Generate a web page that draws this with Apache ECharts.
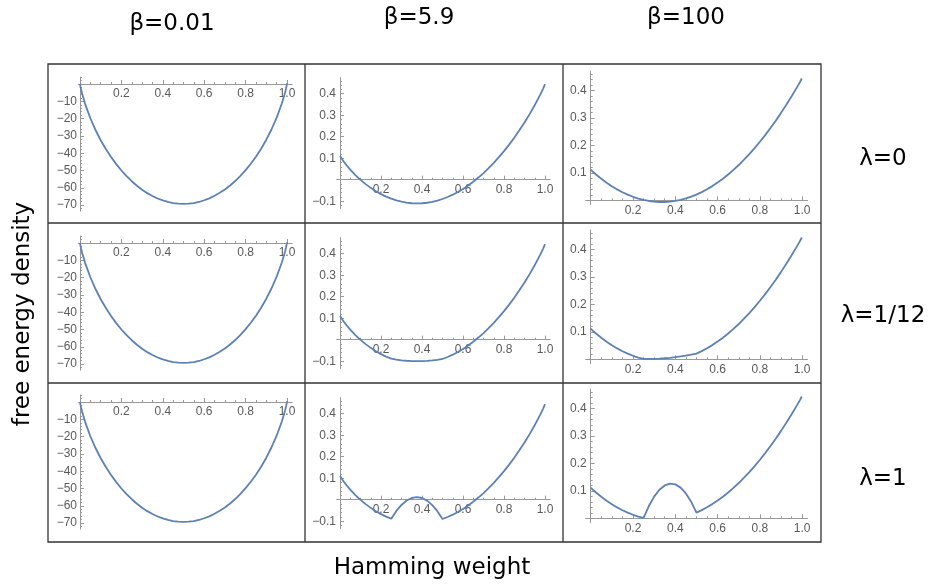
<!DOCTYPE html>
<html>
<head>
<meta charset="utf-8">
<script src="https://cdn.jsdelivr.net/npm/echarts@6/dist/echarts.min.js"></script>
<style>
html, body { margin: 0; background: #fff; }
#chart { width: 936px; height: 587px; }
</style>
</head>
<body>
<div id="chart"></div>
<script>
// Hamming weight samples (shared by every panel)
var xs = [0, 0.002, 0.005, 0.01, 0.025, 0.05, 0.075, 0.1, 0.125, 0.15, 0.175, 0.2, 0.225, 0.25,
    0.275, 0.3, 0.325, 0.35, 0.375, 0.4, 0.425, 0.45, 0.475, 0.5, 0.525, 0.55, 0.575, 0.6,
    0.625, 0.65, 0.675, 0.7, 0.725, 0.75, 0.775, 0.8, 0.825, 0.85, 0.875, 0.9, 0.925, 0.95,
    0.975, 0.99, 0.995, 0.998, 1];

// beta = 0.01 (same look for every lambda)
var lowBeta = [0.1, -1.3, -3.0, -5.5, -11.6, -19.8, -26.6, -32.5, -37.6, -42.2, -46.3, -50.0, -53.3, -56.2,
    -58.8, -61.1, -63.1, -64.7, -66.2, -67.3, -68.2, -68.8, -69.2, -69.3, -69.2, -68.8, -68.2, -67.2,
    -66.1, -64.6, -62.9, -61.0, -58.7, -56.1, -53.1, -49.8, -46.1, -42.0, -37.4, -32.2, -26.3, -19.5,
    -11.3, -5.2, -2.7, -1.0, 0.4];

// beta = 5.9
var midLam0 = [0.1111, 0.1074, 0.1025, 0.0951, 0.0753, 0.0466, 0.0216, -0.0007, -0.0205, -0.0380, -0.0535, -0.0670, -0.0786, -0.0884,
    -0.0963, -0.1024, -0.1068, -0.1095, -0.1104, -0.1096, -0.1072, -0.1030, -0.0972, -0.0897, -0.0805, -0.0697, -0.0572, -0.0430,
    -0.0271, -0.0095, 0.0099, 0.0309, 0.0537, 0.0783, 0.1047, 0.1330, 0.1631, 0.1953, 0.2295, 0.2660, 0.3049, 0.3466,
    0.3919, 0.4217, 0.4325, 0.4407, 0.4444];
var midLam12 = [0.1111, 0.1074, 0.1025, 0.0951, 0.0753, 0.0466, 0.0216, -0.0007, -0.0205, -0.0380, -0.0535, -0.0670, -0.0786, -0.0884,
    -0.0925, -0.0957, -0.0980, -0.0995, -0.1000, -0.0996, -0.0984, -0.0963, -0.0934, -0.0897, -0.0805, -0.0697, -0.0572, -0.0430,
    -0.0271, -0.0095, 0.0099, 0.0309, 0.0537, 0.0783, 0.1047, 0.1330, 0.1631, 0.1953, 0.2295, 0.2660, 0.3049, 0.3466,
    0.3919, 0.4217, 0.4325, 0.4407, 0.4444];
var midLam1 = [0.1111, 0.1074, 0.1025, 0.0951, 0.0753, 0.0466, 0.0216, -0.0007, -0.0205, -0.0380, -0.0535, -0.0670, -0.0786, -0.0884,
    -0.0523, -0.0244, -0.0038, 0.0080, 0.0120, 0.0079, -0.0042, -0.0250, -0.0532, -0.0897, -0.0805, -0.0697, -0.0572, -0.0430,
    -0.0271, -0.0095, 0.0099, 0.0309, 0.0537, 0.0783, 0.1047, 0.1330, 0.1631, 0.1953, 0.2295, 0.2660, 0.3049, 0.3466,
    0.3919, 0.4217, 0.4325, 0.4407, 0.4444];

// beta = 100
var highLam0 = [0.1111, 0.1097, 0.1075, 0.1040, 0.0939, 0.0783, 0.0641, 0.0512, 0.0396, 0.0294, 0.0204, 0.0128, 0.0064, 0.0013,
    -0.0025, -0.0050, -0.0062, -0.0062, -0.0049, -0.0023, 0.0016, 0.0067, 0.0132, 0.0208, 0.0298, 0.0401, 0.0516, 0.0644,
    0.0785, 0.0938, 0.1104, 0.1283, 0.1475, 0.1680, 0.1898, 0.2128, 0.2371, 0.2627, 0.2896, 0.3179, 0.3474, 0.3783,
    0.4105, 0.4306, 0.4375, 0.4430, 0.4444];
var highLam12 = [0.1111, 0.1097, 0.1075, 0.1040, 0.0939, 0.0783, 0.0641, 0.0512, 0.0396, 0.0294, 0.0204, 0.0128, 0.0064, 0.0013,
    0.0013, 0.0017, 0.0026, 0.0038, 0.0055, 0.0077, 0.0104, 0.0134, 0.0170, 0.0208, 0.0298, 0.0401, 0.0516, 0.0644,
    0.0785, 0.0938, 0.1104, 0.1283, 0.1475, 0.1680, 0.1898, 0.2128, 0.2371, 0.2627, 0.2896, 0.3179, 0.3474, 0.3783,
    0.4105, 0.4306, 0.4375, 0.4430, 0.4444];
var highLam1 = [0.1111, 0.1097, 0.1075, 0.1040, 0.0939, 0.0783, 0.0641, 0.0512, 0.0396, 0.0294, 0.0204, 0.0128, 0.0064, 0.0013,
    0.0446, 0.0788, 0.1038, 0.1195, 0.1261, 0.1234, 0.1116, 0.0905, 0.0603, 0.0208, 0.0298, 0.0401, 0.0516, 0.0644,
    0.0785, 0.0938, 0.1104, 0.1283, 0.1475, 0.1680, 0.1898, 0.2128, 0.2371, 0.2627, 0.2896, 0.3179, 0.3474, 0.3783,
    0.4105, 0.4306, 0.4375, 0.4430, 0.4444];

var betaLabels = ['β=0.01', 'β=5.9', 'β=100'];
var lambdaLabels = ['λ=0', 'λ=1/12', 'λ=1'];

// tick labels
var xTickLabels = [0.2, 0.4, 0.6, 0.8, 1.0];
var xTicks = [0, 0.2, 0.4, 0.6, 0.8, 1.0];
var yTickLabelsLow = [-10, -20, -30, -40, -50, -60, -70];
var yTickLabelsMid = [-0.1, 0.1, 0.2, 0.3, 0.4];
var yTickLabelsHigh = [0.1, 0.2, 0.3, 0.4];

var panelData = [
    [lowBeta, midLam0, highLam0],
    [lowBeta, midLam12, highLam12],
    [lowBeta, midLam1, highLam1]
];

// per column: pixel position of x=0 / y=0, pixels per unit, axis ranges
var cols = [
    {x0: 80, px: 207, xmin: -0.008, y0: 84, dy: 159, py: 1.73, ymin: -73.5, ymax: 4,
        yTicks: [0, -10, -20, -30, -40, -50, -60, -70], yLabels: yTickLabelsLow, minorStep: 2, dec: 0, margin: 3},
    {x0: 340, px: 205, xmin: -0.016, y0: 179.7, dy: 160, py: 215, ymin: -0.135, ymax: 0.475,
        yTicks: [-0.1, 0, 0.1, 0.2, 0.3, 0.4], yLabels: yTickLabelsMid, minorStep: 0.02, dec: 1, margin: 4},
    {x0: 590.7, px: 211.5, xmin: -0.024, y0: 200.3, dy: 159, py: 275, ymin: -0.016, ymax: 0.47,
        yTicks: [0, 0.1, 0.2, 0.3, 0.4], yLabels: yTickLabelsHigh, minorStep: 0.02, dec: 1, margin: 4}
];
var xmax = 1.025;

var axisColor = '#999';
var labelColor = '#5a5a5a';
var curveColor = '#5E81B5';

function minorList(lo, hi, step, majors) {
    var out = [];
    var k = Math.ceil(lo / step - 1e-9);
    for (var v = k * step; v <= hi + 1e-9; v += step) {
        var r = Math.round(v * 1000) / 1000;
        var isMajor = majors.some(function (m) { return Math.abs(m - r) < 1e-6; });
        if (!isMajor) out.push(r);
    }
    return out;
}

function fmt(dec) {
    return function (v) {
        var s = dec ? Math.abs(v).toFixed(dec) : String(Math.round(Math.abs(v)));
        return (v < 0 ? '\u2212' : '') + s;
    };
}

var labelFont = {fontSize: 12, fontFamily: 'Liberation Sans', color: labelColor};

var grids = [], xAxes = [], yAxes = [], series = [];
for (var r = 0; r < 3; r++) {
    for (var c = 0; c < 3; c++) {
        var L = cols[c];
        var g = grids.length;
        var yZero = L.y0 + L.dy * r;
        grids.push({
            show: false,
            outerBoundsMode: 'none',
            left: L.x0 + L.xmin * L.px,
            width: (xmax - L.xmin) * L.px,
            top: yZero - L.ymax * L.py,
            height: (L.ymax - L.ymin) * L.py
        });
        // axes sit where the other axis is zero (moved in from the grid edge)
        var xOff = L.ymin * L.py;
        var yOff = L.xmin * L.px;
        var xMinor = minorList(0, 1, 0.05, xTicks);
        var yMinor = minorList(L.ymin, L.ymax, L.minorStep, L.yTicks);
        xAxes.push({
            type: 'value', gridIndex: g, min: L.xmin, max: xmax, position: 'bottom', offset: xOff,
            axisLine: {show: true, onZero: false, lineStyle: {color: axisColor, width: 1}},
            axisTick: {show: true, inside: true, length: 4, customValues: xTicks, lineStyle: {color: axisColor}},
            axisLabel: Object.assign({show: true, customValues: xTickLabels, margin: 4, formatter: fmt(1)}, labelFont),
            splitLine: {show: false}
        });
        xAxes.push({
            type: 'value', gridIndex: g, min: L.xmin, max: xmax, position: 'bottom', offset: xOff,
            axisLine: {show: false, onZero: false},
            axisTick: {show: true, inside: true, length: 2, customValues: xMinor, lineStyle: {color: axisColor}},
            axisLabel: {show: false},
            splitLine: {show: false}
        });
        yAxes.push({
            type: 'value', gridIndex: g, min: L.ymin, max: L.ymax, position: 'left', offset: yOff,
            axisLine: {show: true, onZero: false, lineStyle: {color: axisColor, width: 1}},
            axisTick: {show: true, inside: true, length: 4, customValues: L.yTicks, lineStyle: {color: axisColor}},
            axisLabel: Object.assign({show: true, customValues: L.yLabels, margin: L.margin, formatter: fmt(L.dec)}, labelFont),
            splitLine: {show: false}
        });
        yAxes.push({
            type: 'value', gridIndex: g, min: L.ymin, max: L.ymax, position: 'left', offset: yOff,
            axisLine: {show: false, onZero: false},
            axisTick: {show: true, inside: true, length: 2, customValues: yMinor, lineStyle: {color: axisColor}},
            axisLabel: {show: false},
            splitLine: {show: false}
        });
        var ys = panelData[r][c];
        series.push({
            type: 'line',
            xAxisIndex: 2 * g,
            yAxisIndex: 2 * g,
            data: xs.map(function (x, i) { return [x, ys[i]]; }),
            showSymbol: false,
            symbol: 'none',
            silent: true,
            lineStyle: {color: curveColor, width: 1.8}
        });
    }
}

var textFont = '23px "DejaVu Sans"';
var graphics = [
    {type: 'rect', shape: {x: 48, y: 64, width: 773, height: 478}, style: {fill: 'none', stroke: '#333', lineWidth: 1.3}},
    {type: 'line', shape: {x1: 305, y1: 64, x2: 305, y2: 542}, style: {stroke: '#333', lineWidth: 1.3}},
    {type: 'line', shape: {x1: 563, y1: 64, x2: 563, y2: 542}, style: {stroke: '#333', lineWidth: 1.3}},
    {type: 'line', shape: {x1: 48, y1: 223, x2: 821, y2: 223}, style: {stroke: '#333', lineWidth: 1.3}},
    {type: 'line', shape: {x1: 48, y1: 383, x2: 821, y2: 383}, style: {stroke: '#333', lineWidth: 1.3}}
];
var betaPos = [[172, 24], [419, 18], [686, 18]];
betaLabels.forEach(function (t, i) {
    graphics.push({type: 'text', x: betaPos[i][0], y: betaPos[i][1],
        style: {text: t, font: textFont, fill: '#000', align: 'center', verticalAlign: 'middle'}});
});
var lambdaY = [159, 316, 479];
lambdaLabels.forEach(function (t, i) {
    graphics.push({type: 'text', x: 883, y: lambdaY[i],
        style: {text: t, font: textFont, fill: '#000', align: 'center', verticalAlign: 'middle'}});
});
graphics.push({type: 'text', x: 432, y: 568,
    style: {text: 'Hamming weight', font: textFont, fill: '#000', align: 'center', verticalAlign: 'middle'}});
graphics.push({type: 'text', x: 23, y: 314, rotation: Math.PI / 2,
    style: {text: 'free energy density', font: textFont, fill: '#000', align: 'center', verticalAlign: 'middle'}});

var chart = echarts.init(document.getElementById('chart'));
chart.setOption({
    animation: false,
    backgroundColor: '#fff',
    grid: grids,
    xAxis: xAxes,
    yAxis: yAxes,
    series: series,
    graphic: graphics
});
</script>
</body>
</html>
